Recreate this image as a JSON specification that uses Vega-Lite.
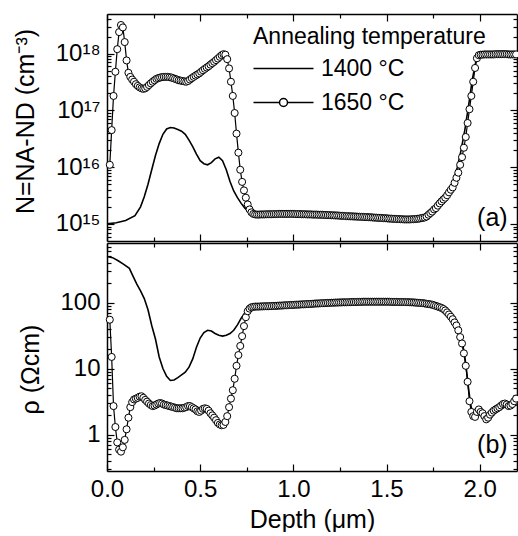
{
"$schema": "https://vega.github.io/schema/vega-lite/v6.json",
"padding": {"left": 12, "top": 13, "right": 0, "bottom": 0},
"spacing": 0,
"config": {
  "font": "Liberation Sans",
  "view": {"stroke": null},
  "axis": {"grid": false, "labelFlush": false, "domainColor": "black", "domainWidth": 1.5, "tickColor": "black", "tickWidth": 1.2, "labelColor": "black", "titleColor": "black", "labelFontSize": 24, "titleFontSize": 25, "titleFontWeight": "normal", "labelFont": "Liberation Sans", "titleFont": "Liberation Sans"}
},
"datasets": {
  "leg": [{"s": "1400 °C"}, {"s": "1650 °C"}],
  "n1400": [
    {"d":0,"N":1e15},{"d":0.05,"N":1.05e15},{"d":0.1,"N":1.15e15},{"d":0.15,"N":1.4e15},{"d":0.18,"N":2e15},{"d":0.2,"N":3e15},{"d":0.22,"N":5e15},{"d":0.24,"N":9e15},{"d":0.26,"N":1.6e16},{"d":0.28,"N":2.6e16},{"d":0.3,"N":3.8e16},{"d":0.32,"N":4.7e16},{"d":0.34,"N":5e16},{"d":0.36,"N":4.9e16},{"d":0.38,"N":4.6e16},{"d":0.4,"N":4.3e16},{"d":0.42,"N":3.8e16},{"d":0.44,"N":3e16},{"d":0.46,"N":2.3e16},{"d":0.48,"N":1.7e16},{"d":0.5,"N":1.3e16},{"d":0.52,"N":1.15e16},{"d":0.54,"N":1.1e16},{"d":0.56,"N":1.2e16},{"d":0.58,"N":1.4e16},{"d":0.6,"N":1.5e16},{"d":0.62,"N":1.3e16},{"d":0.64,"N":9e15},{"d":0.66,"N":5.6e15},{"d":0.68,"N":3.8e15},{"d":0.7,"N":2.9e15},{"d":0.72,"N":2.3e15},{"d":0.74,"N":1.9e15},{"d":0.76,"N":1.65e15},{"d":0.78,"N":1.5e15},{"d":0.8,"N":1.45e15},{"d":0.9,"N":1.45e15},{"d":1.0,"N":1.45e15},{"d":1.1,"N":1.42e15},{"d":1.2,"N":1.38e15},{"d":1.3,"N":1.32e15},{"d":1.4,"N":1.27e15},{"d":1.5,"N":1.22e15},{"d":1.6,"N":1.2e15},{"d":1.65,"N":1.22e15},{"d":1.7,"N":1.3e15},{"d":1.75,"N":1.6e15},{"d":1.8,"N":2.4e15},{"d":1.83,"N":3.5e15},{"d":1.86,"N":6e15},{"d":1.88,"N":1e16},{"d":1.9,"N":2e16},{"d":1.92,"N":4.5e16},{"d":1.94,"N":1.2e17},{"d":1.96,"N":3.5e17},{"d":1.98,"N":7.5e17},{"d":2.0,"N":9.3e17},{"d":2.05,"N":9.6e17},{"d":2.1,"N":9.7e17},{"d":2.2,"N":9.7e17}
  ],
  "r1400": [
    {"d":0,"r":500},{"d":0.03,"r":480},{"d":0.06,"r":430},{"d":0.09,"r":380},{"d":0.12,"r":330},{"d":0.14,"r":250},{"d":0.16,"r":190},{"d":0.18,"r":150},{"d":0.2,"r":115},{"d":0.22,"r":78},{"d":0.24,"r":45},{"d":0.26,"r":28},{"d":0.28,"r":15},{"d":0.3,"r":10},{"d":0.32,"r":7.6},{"d":0.34,"r":6.6},{"d":0.36,"r":6.7},{"d":0.38,"r":7.3},{"d":0.4,"r":8},{"d":0.42,"r":8.8},{"d":0.44,"r":10.5},{"d":0.46,"r":14},{"d":0.48,"r":21},{"d":0.5,"r":29},{"d":0.52,"r":35},{"d":0.54,"r":38},{"d":0.56,"r":37},{"d":0.58,"r":34},{"d":0.6,"r":32},{"d":0.62,"r":31},{"d":0.64,"r":32},{"d":0.66,"r":34},{"d":0.68,"r":38},{"d":0.7,"r":46},{"d":0.72,"r":58},{"d":0.74,"r":70},{"d":0.76,"r":80},{"d":0.78,"r":86},{"d":0.8,"r":88},{"d":0.9,"r":90},{"d":1.0,"r":93},{"d":1.1,"r":97},{"d":1.2,"r":100},{"d":1.3,"r":102},{"d":1.4,"r":103},{"d":1.5,"r":103},{"d":1.6,"r":102},{"d":1.7,"r":98},{"d":1.75,"r":92},{"d":1.8,"r":82},{"d":1.84,"r":65},{"d":1.87,"r":48},{"d":1.89,"r":35},{"d":1.91,"r":22},{"d":1.92,"r":15},{"d":1.93,"r":9},{"d":1.94,"r":5},{"d":1.95,"r":3},{"d":1.96,"r":2.2},{"d":1.98,"r":2.0},{"d":2.0,"r":2.3},{"d":2.03,"r":2.0},{"d":2.06,"r":2.1},{"d":2.1,"r":2.4},{"d":2.15,"r":2.7},{"d":2.2,"r":2.8}
  ],
  "c1650": [
    {"d":0.015,"N":1.1e16,"r":55},{"d":0.025,"N":4.5e16,"r":15},{"d":0.035,"N":1.8e17,"r":2.7},{"d":0.045,"N":4.8e17,"r":1.3},{"d":0.055,"N":1.2e18,"r":0.76},{"d":0.065,"N":2.4e18,"r":0.59},{"d":0.075,"N":3.2e18,"r":0.55},{"d":0.085,"N":2.9e18,"r":0.64},{"d":0.095,"N":1.6e18,"r":0.83},{"d":0.105,"N":7.6e17,"r":1.2},
    {"d":0.115,"N":4.6e17,"r":1.8},{"d":0.125,"N":3.9e17,"r":2.6},{"d":0.135,"N":3.5e17,"r":3.1},{"d":0.145,"N":3.2e17,"r":3.4},{"d":0.155,"N":2.9e17,"r":3.5},{"d":0.165,"N":2.7e17,"r":3.6},{"d":0.175,"N":2.55e17,"r":3.75},{"d":0.185,"N":2.45e17,"r":3.8},{"d":0.195,"N":2.4e17,"r":3.6},{"d":0.205,"N":2.45e17,"r":3.35},
    {"d":0.215,"N":2.6e17,"r":3.15},{"d":0.225,"N":2.8e17,"r":2.95},{"d":0.235,"N":3.0e17,"r":2.8},{"d":0.245,"N":3.2e17,"r":2.7},{"d":0.255,"N":3.4e17,"r":2.75},{"d":0.265,"N":3.6e17,"r":2.85},{"d":0.275,"N":3.7e17,"r":2.95},{"d":0.285,"N":3.8e17,"r":3.0},{"d":0.295,"N":3.85e17,"r":2.95},{"d":0.305,"N":3.9e17,"r":2.85},
    {"d":0.315,"N":3.9e17,"r":2.8},{"d":0.325,"N":3.9e17,"r":2.75},{"d":0.335,"N":3.85e17,"r":2.7},{"d":0.345,"N":3.8e17,"r":2.65},{"d":0.355,"N":3.7e17,"r":2.6},{"d":0.365,"N":3.6e17,"r":2.55},{"d":0.375,"N":3.5e17,"r":2.5},{"d":0.385,"N":3.4e17,"r":2.5},{"d":0.395,"N":3.35e17,"r":2.5},{"d":0.405,"N":3.3e17,"r":2.5},
    {"d":0.415,"N":3.25e17,"r":2.55},{"d":0.425,"N":3.2e17,"r":2.6},{"d":0.435,"N":3.3e17,"r":2.7},{"d":0.445,"N":3.5e17,"r":2.7},{"d":0.455,"N":3.7e17,"r":2.6},{"d":0.465,"N":3.9e17,"r":2.5},{"d":0.475,"N":4.1e17,"r":2.4},{"d":0.485,"N":4.3e17,"r":2.25},{"d":0.495,"N":4.5e17,"r":2.2},{"d":0.505,"N":4.8e17,"r":2.3},
    {"d":0.515,"N":5.1e17,"r":2.45},{"d":0.525,"N":5.4e17,"r":2.5},{"d":0.535,"N":5.7e17,"r":2.45},{"d":0.545,"N":6.0e17,"r":2.3},{"d":0.555,"N":6.4e17,"r":2.1},{"d":0.565,"N":6.8e17,"r":1.95},{"d":0.575,"N":7.2e17,"r":1.8},{"d":0.585,"N":7.7e17,"r":1.65},{"d":0.595,"N":8.2e17,"r":1.5},{"d":0.605,"N":8.8e17,"r":1.42},
    {"d":0.615,"N":9.4e17,"r":1.38},{"d":0.625,"N":9.8e17,"r":1.4},{"d":0.635,"N":9.6e17,"r":1.55},{"d":0.645,"N":8.0e17,"r":1.9},{"d":0.655,"N":5.5e17,"r":2.6},{"d":0.665,"N":3.2e17,"r":3.5},{"d":0.675,"N":1.8e17,"r":4.7},{"d":0.685,"N":9e16,"r":7.0},{"d":0.695,"N":3.9e16,"r":11},{"d":0.705,"N":1.8e16,"r":16},
    {"d":0.715,"N":9e15,"r":22},{"d":0.725,"N":5.5e15,"r":31},{"d":0.735,"N":3.9e15,"r":44},{"d":0.745,"N":2.9e15,"r":60},{"d":0.755,"N":2.2e15,"r":74},{"d":0.765,"N":1.8e15,"r":81},{"d":0.775,"N":1.6e15,"r":85},{"d":0.785,"N":1.5e15,"r":86},{"d":0.795,"N":1.47e15,"r":87},
    {"d":0.805,"N":1.46e15,"r":87},{"d":0.815,"N":1.46e15,"r":87},{"d":0.825,"N":1.47e15,"r":87.5},{"d":0.835,"N":1.47e15,"r":87.5},{"d":0.845,"N":1.47e15,"r":88},{"d":0.855,"N":1.48e15,"r":88},{"d":0.865,"N":1.48e15,"r":88},{"d":0.875,"N":1.48e15,"r":88.5},{"d":0.885,"N":1.48e15,"r":88.5},{"d":0.895,"N":1.49e15,"r":89},
    {"d":0.905,"N":1.49e15,"r":89},{"d":0.915,"N":1.49e15,"r":89.5},{"d":0.925,"N":1.5e15,"r":90},{"d":0.935,"N":1.5e15,"r":90},{"d":0.945,"N":1.5e15,"r":90.5},{"d":0.955,"N":1.5e15,"r":91},{"d":0.965,"N":1.5e15,"r":91},{"d":0.975,"N":1.5e15,"r":91.5},{"d":0.985,"N":1.5e15,"r":92},{"d":0.995,"N":1.5e15,"r":92},
    {"d":1.005,"N":1.5e15,"r":92.5},{"d":1.015,"N":1.49e15,"r":93},{"d":1.025,"N":1.49e15,"r":93},{"d":1.035,"N":1.49e15,"r":93.5},{"d":1.045,"N":1.48e15,"r":94},{"d":1.055,"N":1.48e15,"r":94},{"d":1.065,"N":1.48e15,"r":94.5},{"d":1.075,"N":1.47e15,"r":95},{"d":1.085,"N":1.47e15,"r":95},{"d":1.095,"N":1.47e15,"r":95.5},
    {"d":1.105,"N":1.46e15,"r":96},{"d":1.115,"N":1.46e15,"r":96.5},{"d":1.125,"N":1.46e15,"r":97},{"d":1.135,"N":1.45e15,"r":97},{"d":1.145,"N":1.45e15,"r":97.5},{"d":1.155,"N":1.45e15,"r":98},{"d":1.165,"N":1.44e15,"r":98},{"d":1.175,"N":1.44e15,"r":98.5},{"d":1.185,"N":1.43e15,"r":99},{"d":1.195,"N":1.43e15,"r":99},
    {"d":1.205,"N":1.42e15,"r":99.5},{"d":1.215,"N":1.42e15,"r":99.5},{"d":1.225,"N":1.41e15,"r":100},{"d":1.235,"N":1.41e15,"r":100},{"d":1.245,"N":1.4e15,"r":100.5},{"d":1.255,"N":1.39e15,"r":100.5},{"d":1.265,"N":1.39e15,"r":101},{"d":1.275,"N":1.38e15,"r":101},{"d":1.285,"N":1.37e15,"r":101},{"d":1.295,"N":1.37e15,"r":101.5},
    {"d":1.305,"N":1.36e15,"r":101.5},{"d":1.315,"N":1.36e15,"r":102},{"d":1.325,"N":1.35e15,"r":102},{"d":1.335,"N":1.35e15,"r":102},{"d":1.345,"N":1.34e15,"r":102.5},{"d":1.355,"N":1.34e15,"r":102.5},{"d":1.365,"N":1.33e15,"r":102.5},{"d":1.375,"N":1.33e15,"r":103},{"d":1.385,"N":1.32e15,"r":103},{"d":1.395,"N":1.32e15,"r":103},
    {"d":1.405,"N":1.31e15,"r":103},{"d":1.415,"N":1.31e15,"r":103},{"d":1.425,"N":1.3e15,"r":103},{"d":1.435,"N":1.29e15,"r":103},{"d":1.445,"N":1.29e15,"r":103},{"d":1.455,"N":1.28e15,"r":103},{"d":1.465,"N":1.28e15,"r":103},{"d":1.475,"N":1.27e15,"r":103},{"d":1.485,"N":1.26e15,"r":103},{"d":1.495,"N":1.26e15,"r":103},
    {"d":1.505,"N":1.25e15,"r":103},{"d":1.515,"N":1.24e15,"r":103},{"d":1.525,"N":1.24e15,"r":102.5},{"d":1.535,"N":1.23e15,"r":102.5},{"d":1.545,"N":1.23e15,"r":102.5},{"d":1.555,"N":1.22e15,"r":102.5},{"d":1.565,"N":1.22e15,"r":102},{"d":1.575,"N":1.21e15,"r":102},{"d":1.585,"N":1.21e15,"r":102},{"d":1.595,"N":1.2e15,"r":102},
    {"d":1.605,"N":1.2e15,"r":101.5},{"d":1.615,"N":1.2e15,"r":101.5},{"d":1.625,"N":1.2e15,"r":101},{"d":1.635,"N":1.21e15,"r":101},{"d":1.645,"N":1.21e15,"r":100.5},{"d":1.655,"N":1.22e15,"r":100},{"d":1.665,"N":1.23e15,"r":99.5},{"d":1.675,"N":1.24e15,"r":99},{"d":1.685,"N":1.26e15,"r":98.5},{"d":1.695,"N":1.28e15,"r":98},
    {"d":1.705,"N":1.3e15,"r":97},{"d":1.715,"N":1.35e15,"r":96},{"d":1.725,"N":1.45e15,"r":95},{"d":1.735,"N":1.55e15,"r":94},{"d":1.745,"N":1.65e15,"r":93},{"d":1.755,"N":1.8e15,"r":91},{"d":1.765,"N":1.9e15,"r":89},{"d":1.775,"N":2.1e15,"r":87},{"d":1.785,"N":2.3e15,"r":85},{"d":1.795,"N":2.5e15,"r":83},
    {"d":1.805,"N":2.7e15,"r":80},{"d":1.815,"N":2.9e15,"r":76},{"d":1.825,"N":3.2e15,"r":71},{"d":1.835,"N":3.6e15,"r":66},{"d":1.845,"N":4.0e15,"r":61},{"d":1.855,"N":4.4e15,"r":56},{"d":1.865,"N":5.3e15,"r":50},{"d":1.875,"N":6.5e15,"r":45},{"d":1.885,"N":8e15,"r":38},{"d":1.895,"N":1.1e16,"r":30},
    {"d":1.905,"N":1.5e16,"r":24},{"d":1.915,"N":2.2e16,"r":17},{"d":1.925,"N":3.4e16,"r":11},{"d":1.935,"N":6e16,"r":6.3},{"d":1.945,"N":1.05e17,"r":3.2},{"d":1.955,"N":1.8e17,"r":2.2},{"d":1.965,"N":3.2e17,"r":1.9},{"d":1.975,"N":5.6e17,"r":1.85},{"d":1.985,"N":8.3e17,"r":2.2},{"d":1.995,"N":9.4e17,"r":2.4},
    {"d":2.005,"N":9.6e17,"r":2.2},{"d":2.015,"N":9.6e17,"r":2.1},{"d":2.025,"N":9.7e17,"r":1.9},{"d":2.035,"N":9.7e17,"r":1.7},{"d":2.045,"N":9.7e17,"r":1.8},{"d":2.055,"N":9.7e17,"r":2.0},{"d":2.065,"N":9.7e17,"r":2.15},{"d":2.075,"N":9.7e17,"r":2.3},{"d":2.085,"N":9.8e17,"r":2.4},{"d":2.095,"N":9.8e17,"r":2.5},
    {"d":2.105,"N":9.8e17,"r":2.6},{"d":2.115,"N":9.8e17,"r":2.75},{"d":2.125,"N":9.8e17,"r":2.9},{"d":2.135,"N":9.8e17,"r":2.95},{"d":2.145,"N":9.8e17,"r":2.85},{"d":2.155,"N":9.7e17,"r":2.7},{"d":2.165,"N":9.7e17,"r":2.75},{"d":2.175,"N":9.7e17,"r":2.9},{"d":2.185,"N":9.7e17,"r":3.2},{"d":2.195,"N":9.7e17,"r":3.5}
  ]
},
"vconcat": [
  {
    "width": 410, "height": 227,
    "resolve": {"axis": {"x": "independent", "y": "independent"}},
    "layer": [
      {
        "data": {"name": "n1400"},
        "mark": {"type": "line", "color": "black", "strokeWidth": 1.6},
        "encoding": {
          "x": {"field": "d", "type": "quantitative", "scale": {"domain": [0, 2.2], "nice": false}, "axis": {"orient": "bottom", "values": [0,0.25,0.5,0.75,1,1.25,1.5,1.75,2], "labels": false, "title": null, "tickSize": {"condition": {"test": "datum.value % 0.5 == 0", "value": -7}, "value": -4}}},
          "y": {"field": "N", "type": "quantitative", "scale": {"type": "log", "domain": [5e14, 5e18], "nice": false}, "axis": {"orient": "left", "values": [6e14,7e14,8e14,9e14,1e15,2e15,3e15,4e15,5e15,6e15,7e15,8e15,9e15,1e16,2e16,3e16,4e16,5e16,6e16,7e16,8e16,9e16,1e17,2e17,3e17,4e17,5e17,6e17,7e17,8e17,9e17,1e18,2e18,3e18,4e18], "labelExpr": "datum.value == 1e15 ? '10¹⁵' : datum.value == 1e16 ? '10¹⁶' : datum.value == 1e17 ? '10¹⁷' : datum.value == 1e18 ? '10¹⁸' : ''", "tickSize": {"condition": {"test": "datum.value == 1e15 || datum.value == 1e16 || datum.value == 1e17 || datum.value == 1e18", "value": -7}, "value": -4}, "labelPadding": 14, "title": "N=NA-ND (cm⁻³)", "titleX": -82, "titleY": 107, "titleBaseline": "middle"}}
        }
      },
      {
        "data": {"name": "c1650"},
        "mark": {"type": "line", "color": "black", "strokeWidth": 1.2},
        "encoding": {
          "x": {"field": "d", "type": "quantitative", "axis": {"orient": "top", "values": [0,0.25,0.5,0.75,1,1.25,1.5,1.75,2], "labels": false, "title": null, "tickSize": {"condition": {"test": "datum.value % 0.5 == 0", "value": -7}, "value": -4}}},
          "y": {"field": "N", "type": "quantitative", "axis": {"orient": "right", "values": [6e14,7e14,8e14,9e14,1e15,2e15,3e15,4e15,5e15,6e15,7e15,8e15,9e15,1e16,2e16,3e16,4e16,5e16,6e16,7e16,8e16,9e16,1e17,2e17,3e17,4e17,5e17,6e17,7e17,8e17,9e17,1e18,2e18,3e18,4e18], "labels": false, "title": null, "tickSize": {"condition": {"test": "datum.value == 1e15 || datum.value == 1e16 || datum.value == 1e17 || datum.value == 1e18", "value": -7}, "value": -4}}}
        }
      },
      {
        "data": {"name": "c1650"},
        "mark": {"type": "point", "shape": "circle", "filled": true, "fill": "white", "stroke": "black", "strokeWidth": 1, "size": 50, "opacity": 1},
        "encoding": {
          "x": {"field": "d", "type": "quantitative", "axis": null},
          "y": {"field": "N", "type": "quantitative", "axis": null}
        }
      },
      {
        "data": {"name": "leg"},
        "mark": {"type": "point", "opacity": 0},
        "encoding": {
          "shape": {"field": "s", "type": "nominal", "scale": {"domain": ["1400 °C", "1650 °C"], "range": ["M-3,0H3", "M-3,0H-0.4M0.4,0H3M0.4,0A0.4,0.4,0,1,1,-0.4,0A0.4,0.4,0,1,1,0.4,0Z"]},
            "legend": {"orient": "none", "legendX": 146, "legendY": 12, "title": "Annealing temperature", "titleLimit": 400, "titleFont": "Liberation Sans", "titleFontSize": 23, "titleFontWeight": "normal", "titleColor": "black", "labelFont": "Liberation Sans", "labelFontSize": 23, "labelColor": "black", "titlePadding": 8, "rowPadding": 10, "symbolSize": 400, "symbolStrokeWidth": 1.5, "symbolStrokeColor": "black", "symbolFillColor": "white", "symbolOpacity": 1, "symbolOffset": 19, "labelOffset": 26}}
        }
      },
      {
        "data": {"values": [{"t": "(a)"}]},
        "mark": {"type": "text", "align": "right", "baseline": "middle", "fontSize": 25, "font": "Liberation Sans", "color": "black"},
        "encoding": {
          "x": {"datum": 2.15, "type": "quantitative", "axis": null},
          "y": {"datum": 1.25e15, "type": "quantitative", "axis": null},
          "text": {"field": "t"}
        }
      }
    ]
  },
  {
    "width": 410, "height": 228,
    "resolve": {"axis": {"x": "independent", "y": "independent"}},
    "layer": [
      {
        "data": {"name": "r1400"},
        "mark": {"type": "line", "color": "black", "strokeWidth": 1.6},
        "encoding": {
          "x": {"field": "d", "type": "quantitative", "scale": {"domain": [0, 2.2], "nice": false}, "axis": {"orient": "bottom", "values": [0,0.25,0.5,0.75,1,1.25,1.5,1.75,2], "labelExpr": "datum.value % 0.5 == 0 ? format(datum.value, '.1f') : ''", "tickSize": {"condition": {"test": "datum.value % 0.5 == 0", "value": -7}, "value": -4}, "labelPadding": 13, "title": "Depth (μm)", "titlePadding": 6}},
          "y": {"field": "r", "type": "quantitative", "scale": {"type": "log", "domain": [0.28, 800], "nice": false}, "axis": {"orient": "left", "values": [0.3,0.4,0.5,0.6,0.7,0.8,0.9,1,2,3,4,5,6,7,8,9,10,20,30,40,50,60,70,80,90,100,200,300,400,500,600,700], "labelExpr": "datum.value == 1 || datum.value == 10 || datum.value == 100 ? format(datum.value, 'd') : ''", "tickSize": {"condition": {"test": "datum.value == 1 || datum.value == 10 || datum.value == 100", "value": -7}, "value": -4}, "labelPadding": 14, "title": "ρ (Ωcm)", "titleX": -77, "titleY": 126, "titleBaseline": "middle"}}
        }
      },
      {
        "data": {"name": "c1650"},
        "mark": {"type": "line", "color": "black", "strokeWidth": 1.2},
        "encoding": {
          "x": {"field": "d", "type": "quantitative", "axis": {"orient": "top", "values": [0,0.25,0.5,0.75,1,1.25,1.5,1.75,2], "labels": false, "title": null, "tickSize": {"condition": {"test": "datum.value % 0.5 == 0", "value": -7}, "value": -4}}},
          "y": {"field": "r", "type": "quantitative", "axis": {"orient": "right", "values": [0.3,0.4,0.5,0.6,0.7,0.8,0.9,1,2,3,4,5,6,7,8,9,10,20,30,40,50,60,70,80,90,100,200,300,400,500,600,700], "labels": false, "title": null, "tickSize": {"condition": {"test": "datum.value == 1 || datum.value == 10 || datum.value == 100", "value": -7}, "value": -4}}}
        }
      },
      {
        "data": {"name": "c1650"},
        "mark": {"type": "point", "shape": "circle", "filled": true, "fill": "white", "stroke": "black", "strokeWidth": 1, "size": 50, "opacity": 1},
        "encoding": {
          "x": {"field": "d", "type": "quantitative", "axis": null},
          "y": {"field": "r", "type": "quantitative", "axis": null}
        }
      },
      {
        "data": {"values": [{"t": "(b)"}]},
        "mark": {"type": "text", "align": "right", "baseline": "middle", "fontSize": 25, "font": "Liberation Sans", "color": "black"},
        "encoding": {
          "x": {"datum": 2.15, "type": "quantitative", "axis": null},
          "y": {"datum": 0.69, "type": "quantitative", "axis": null},
          "text": {"field": "t"}
        }
      }
    ]
  }
]
}
